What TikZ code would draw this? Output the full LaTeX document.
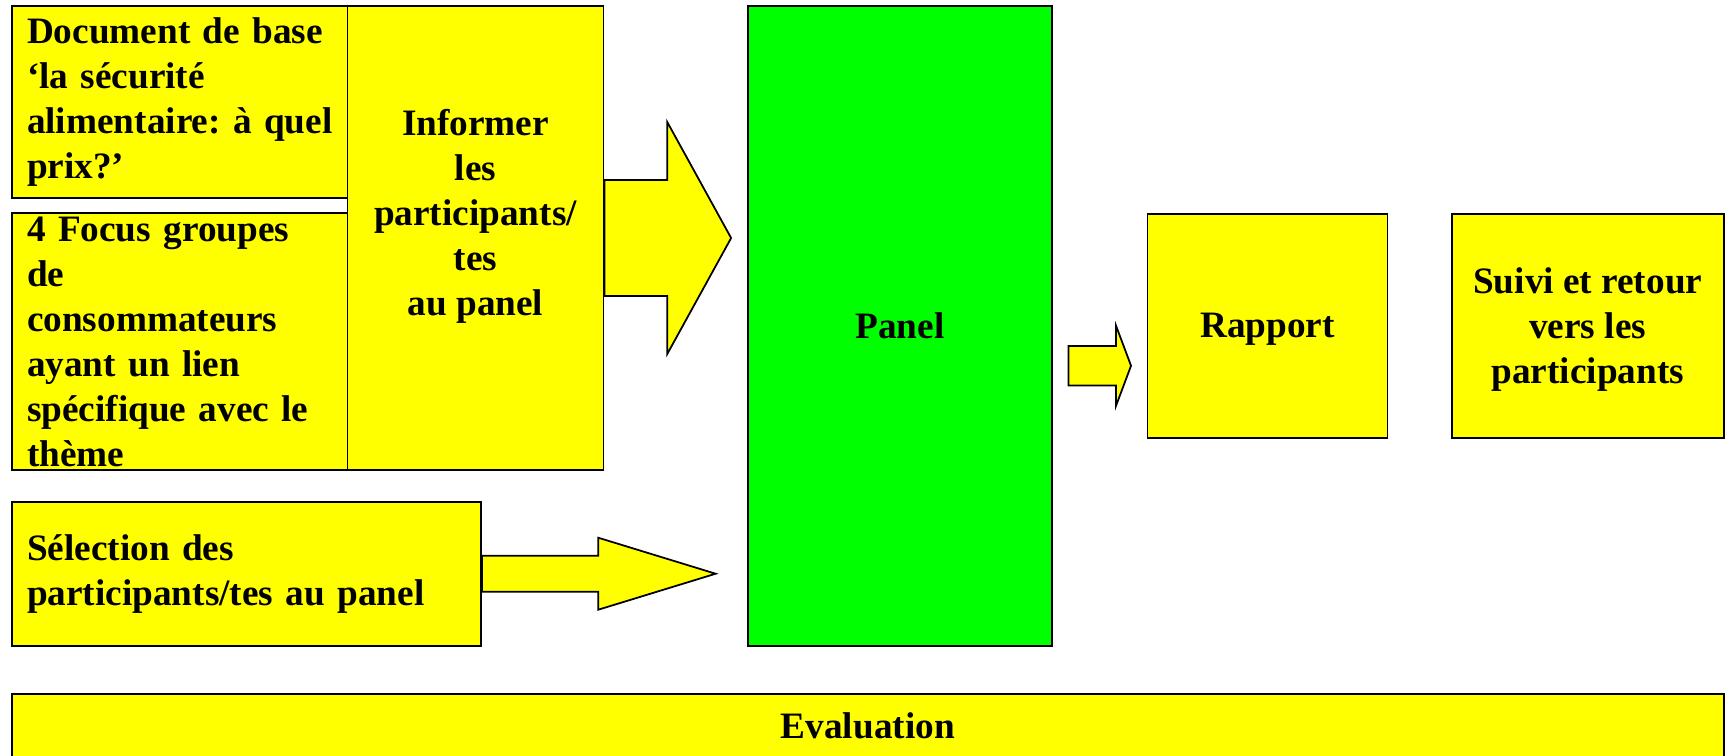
\documentclass[tikz,border=0pt]{standalone}
\usepackage{fontspec}
\setmainfont{Liberation Serif}
\usepackage{tikz}
\usetikzlibrary{calc,positioning}
\frenchspacing
\definecolor{boxyellow}{RGB}{255,255,0}
\definecolor{panelgreen}{RGB}{0,255,0}
\tikzset{
	box/.style = {rectangle, draw, fill=boxyellow, line width=0.5pt, align=center,
		font=\bfseries\fontsize{10.6}{12.8}\selectfont},
	leftbox/.style = {box, align=left, inner xsep=0.15cm},
	panelbox/.style = {box, fill=panelgreen},
	blockarrow/.style = {draw, fill=boxyellow, line width=0.5pt, line join=miter}
}
% #1 tail, #2 tip, #3 half shaft, #4 half head, #5 head length
\newcommand{\blockarrow}[5]{%
	\draw[blockarrow] ($(#1)+(0,#3)$) -- ($(#2)+(-#5,#3)$) -- ($(#2)+(-#5,#4)$) -- (#2)
		-- ($(#2)+(-#5,-#4)$) -- ($(#2)+(-#5,-#3)$) -- ($(#1)+(0,-#3)$) -- cycle;}

\begin{document}
\begin{tikzpicture}
		\useasboundingbox (0,0) rectangle (17.27,-7.55);
		
		\node[leftbox, minimum height=1.92cm, text width=3.06cm] (docbase) at (1.80,-1.02)
			{Document de base\\‘la sécurité\\alimentaire:~à~quel\\prix?’};
		\node[leftbox, minimum height=2.57cm, text width=3.06cm, inner ysep=-0.03cm] (focus) at (1.80,-3.415)
			{4 Focus groupes\\de\\consommateurs\\ayant un lien\\spécifique avec le\\thème};
		\node[box, minimum width=2.56cm, minimum height=4.64cm, text depth=0.52cm] (inform) at (4.755,-2.38)
			{Informer\\les\\participants/\\tes\\au panel};
		\node[leftbox, minimum height=1.44cm, text width=4.39cm] (selection) at (2.465,-5.737)
			{Sélection des\\participants/tes au panel};
		\node[panelbox, minimum width=3.04cm, minimum height=6.40cm] (panel) at (9.00,-3.257) {Panel};
		\node[box, minimum width=2.40cm, minimum height=2.24cm, text depth=0pt] (rapport) at (12.675,-3.257) {Rapport};
		\node[box, minimum width=2.72cm, minimum height=2.24cm, text depth=0pt] (suivi) at (15.877,-3.257)
			{Suivi et retour\\vers les\\participants};
		\node[box, minimum width=17.116cm, minimum height=0.63cm] (evaluation) at (8.678,-7.255) {Evaluation};
		
		% Block arrows
		\coordinate (tipinform) at ($(inform.east -| panel.west)+(-0.16,0)$);
		\coordinate (tipselection) at ($(selection.east -| panel.west)+(-0.315,0)$);
		\coordinate (tailpanel) at ($(panel.east)+(0.157,-0.40)$);
		\coordinate (tiprapport) at ($(rapport.west)+(-0.156,-0.40)$);
		\blockarrow{inform.east}{tipinform}{0.58}{1.162}{0.64}
		\blockarrow{selection.east}{tipselection}{0.18}{0.36}{1.174}
		\blockarrow{tailpanel}{tiprapport}{0.197}{0.40}{0.15}
\end{tikzpicture}
\end{document}
